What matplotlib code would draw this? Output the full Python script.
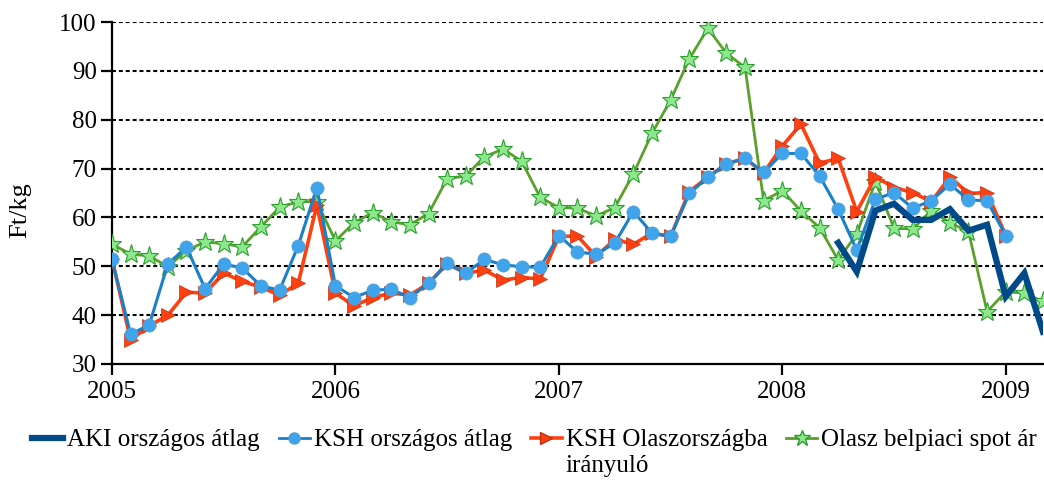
import numpy as np
import matplotlib
matplotlib.use("Agg")
import matplotlib.pyplot as plt
from matplotlib.lines import Line2D

plt.rcParams['font.family'] = ['Liberation Serif', 'DejaVu Serif']

# --- data: monthly prices, Ft/kg, starting Jan 2005 ---
ksh_orszagos = [51.4, 36.1, 38.0, 50.5, 53.9, 45.4, 50.5, 49.6, 46.0, 45.1, 54.2, 66.1,
                46.0, 43.6, 45.1, 45.3, 43.6, 46.5, 50.6, 48.6, 51.4, 50.3, 49.9, 49.8,
                56.3, 52.9, 52.5, 54.7, 61.2, 56.8, 56.1, 64.9, 68.2, 70.9, 72.1, 69.2,
                73.1, 73.1, 68.5, 61.7, 53.3, 63.7, 65.1, 61.9, 63.4, 66.8, 63.6, 63.4,
                56.3]
ksh_olasz = [51.5, 34.9, 37.8, 40.0, 44.7, 44.5, 48.6, 46.9, 45.7, 44.1, 46.5, 62.5,
             44.5, 41.9, 43.6, 44.5, 44.1, 46.5, 50.5, 48.6, 49.2, 47.2, 47.7, 47.4,
             56.1, 56.2, 52.0, 55.5, 54.5, 56.8, 56.1, 65.3, 68.2, 71.0, 72.1, 69.1,
             74.6, 79.1, 71.1, 72.1, 61.2, 68.3, 66.1, 65.1, 63.2, 68.3, 64.9, 65.1,
             56.3]
olasz_spot = [54.5, 52.5, 52.1, 49.9, 53.2, 55.0, 54.6, 54.0, 58.1, 62.1, 63.2, 63.2,
              55.2, 58.9, 61.0, 59.1, 58.5, 60.8, 67.9, 68.5, 72.4, 74.0, 71.5, 64.1,
              62.0, 61.9, 60.3, 62.0, 68.9, 77.2, 84.0, 92.4, 98.7, 93.6, 90.7, 63.4,
              65.5, 61.3, 57.9, 51.3, 56.6, 67.3, 57.8, 57.6, 61.4, 58.9, 57.1, 40.7,
              44.8, 44.5, 42.8]
# AKI starts in Apr 2008 (month index 39)
aki_start = 39
aki_orszagos = [54.8, 48.9, 61.4, 62.8, 59.5, 59.5, 61.7, 57.3, 58.5, 43.8, 48.6, 36.6]

year_ticks = [2005, 2006, 2007, 2008, 2009]
labels = ["AKI országos átlag", "KSH országos átlag",
          "KSH Olaszországba", "Olasz belpiaci spot ár"]
label_second_line = "irányuló"


def month_x(n, start=0):
    return 2005 + (np.arange(n) + start) / 12.0


fig = plt.figure(figsize=(10.44, 4.87), dpi=100)
ax = fig.add_axes([0.1073, 0.2526, 0.8917, 0.7022])

c_aki = '#004a8a'
c_ksh = '#1a80c8'
c_ksh_m = '#40a4ec'
c_red = '#ff4010'
c_green = '#5aa02a'
c_star = '#8de88d'

ax.plot(month_x(len(olasz_spot)), olasz_spot, color=c_green, lw=2,
        marker='*', ms=14, mfc=c_star, mec='#2ea02e', mew=0.8, zorder=3)
ax.plot(month_x(len(ksh_olasz)), ksh_olasz, color=c_red, lw=2.6,
        marker='>', ms=10.5, mfc=c_red, mec='#c03010', mew=0.5, zorder=4)
ax.plot(month_x(len(ksh_orszagos)), ksh_orszagos, color=c_ksh, lw=2.2,
        marker='o', ms=9.5, mfc=c_ksh_m, mec='#5a9fd0', mew=0.5, zorder=5)
ax.plot(month_x(len(aki_orszagos), aki_start), aki_orszagos, color=c_aki, lw=4.5,
        zorder=6, solid_joinstyle='miter')

ax.set_xlim(2005, 2005 + 50 / 12.0)
ax.set_ylim(30, 100)
ax.set_xticks(year_ticks)
ax.set_xticklabels([str(y) for y in year_ticks])
ax.set_yticks(range(30, 101, 10))
for v in range(40, 101, 10):
    ax.axhline(v, color='black', lw=1.5, ls=(0, (1.9, 1.4)), zorder=1)

for s in ['top', 'right']:
    ax.spines[s].set_visible(False)
for s in ['left', 'bottom']:
    ax.spines[s].set_linewidth(1.6)
ax.tick_params(axis='both', direction='out', width=1.6, length=8, labelsize=18)
ax.tick_params(axis='x', pad=4)
ax.tick_params(axis='y', pad=3)
fig.text(20 / 1044, 0.569, 'Ft/kg', rotation=90, ha='center', va='center', fontsize=19)

handles = [
    Line2D([], [], color=c_aki, lw=4.5),
    Line2D([], [], color=c_ksh, lw=2, marker='o', ms=8, mfc=c_ksh_m, mec='#5a9fd0'),
    Line2D([], [], color=c_red, lw=2.6, marker='>', ms=9, mfc=c_red, mec='#c03010'),
    Line2D([], [], color=c_green, lw=2, marker='*', ms=12, mfc=c_star, mec='#2ea02e'),
]
leg = fig.legend(handles, labels, loc='center', bbox_to_anchor=(0.512, 0.0965),
                 ncol=4, frameon=False, fontsize=18, handlelength=1.25,
                 handletextpad=0.15, columnspacing=0.75, borderaxespad=0, borderpad=0)

# second line of the third legend label, placed under its first line
fig.canvas.draw()
bb = leg.get_texts()[2].get_window_extent().transformed(fig.transFigure.inverted())
fig.text(bb.x0, bb.y0 - 0.008, label_second_line, ha='left', va='top', fontsize=18)

fig.savefig('out.png', dpi=100)
